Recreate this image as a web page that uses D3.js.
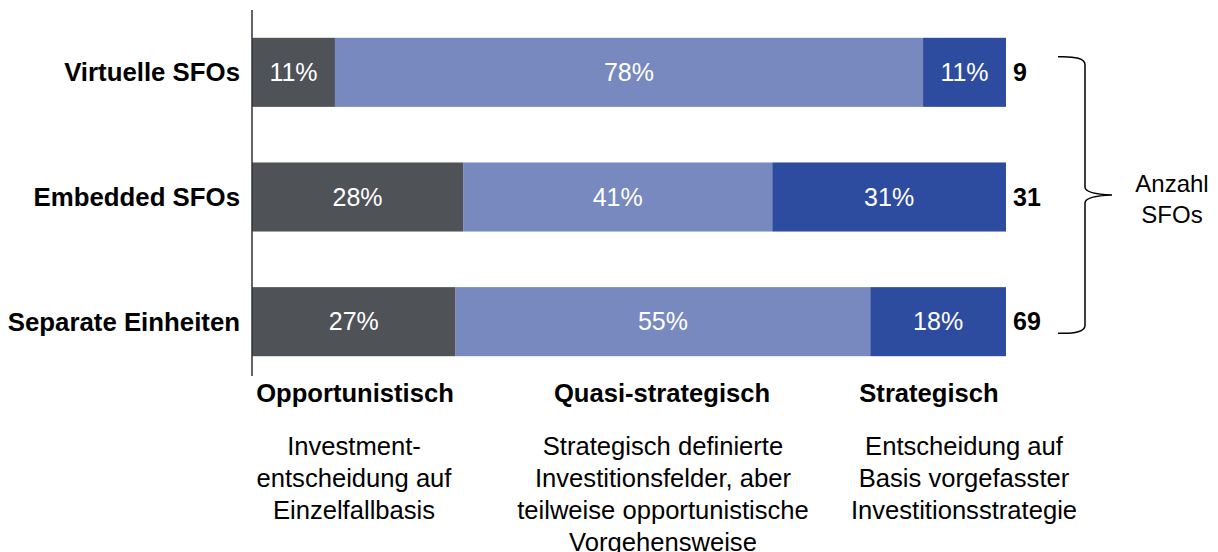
<!DOCTYPE html>
<html>
<head>
<meta charset="utf-8">
<script src="https://cdn.jsdelivr.net/npm/d3@7"></script>
<style>
  body { margin: 0; background: #fff; }
  text { font-family: "Liberation Sans", Arial, sans-serif; }
</style>
</head>
<body>
<div id="chart"></div>
<script>
// Data
var rowLabels = ["Virtuelle SFOs", "Embedded SFOs", "Separate Einheiten"];
var opportunistisch = [11, 28, 27];
var quasiStrategisch = [78, 41, 55];
var strategisch = [11, 31, 18];
var counts = [9, 31, 69];
var categoryTitles = ["Opportunistisch", "Quasi-strategisch", "Strategisch"];
var categoryTexts = [
  ["Investment-", "entscheidung auf", "Einzelfallbasis"],
  ["Strategisch definierte", "Investitionsfelder, aber", "teilweise opportunistische", "Vorgehensweise"],
  ["Entscheidung auf", "Basis vorgefasster", "Investitionsstrategie"]
];
var bracketLabel = ["Anzahl", "SFOs"];

var svgWidth = 1218;
var svgHeight = 552;
var colors = ["#4f5257", "#7789be", "#2e4c9f"];

var svg = d3.select("#chart")
  .append("svg")
  .attr("width", svgWidth)
  .attr("height", svgHeight);

// Scales
var x = d3.scaleLinear()
  .domain([0, 100])
  .range([252, 1006]);

var y = d3.scaleBand()
  .domain(rowLabels)
  .range([10, 384])
  .paddingInner(0.446)
  .paddingOuter(0.223);

// build stacked data
var rows = rowLabels.map(function (name, i) {
  return { name: name, o: opportunistisch[i], q: quasiStrategisch[i], s: strategisch[i], n: counts[i] };
});
var stack = d3.stack().keys(["o", "q", "s"]);
var series = stack(rows);

var groups = svg.selectAll("g.series")
  .data(series)
  .enter()
  .append("g")
  .attr("class", "series")
  .attr("fill", function (d, i) { return colors[i]; });

groups.selectAll("rect")
  .data(function (d) { return d; })
  .enter()
  .append("rect")
  .attr("x", function (d) { return x(d[0]); })
  .attr("y", function (d) { return y(d.data.name); })
  .attr("width", function (d) { return x(d[1]) - x(d[0]); })
  .attr("height", y.bandwidth());

// percent labels
groups.selectAll("text")
  .data(function (d) { return d; })
  .enter()
  .append("text")
  .attr("x", function (d) { return (x(d[0]) + x(d[1])) / 2; })
  .attr("y", function (d) { return y(d.data.name) + y.bandwidth() / 2; })
  .attr("dy", "0.35em")
  .attr("text-anchor", "middle")
  .attr("fill", "#ffffff")
  .attr("font-size", "25px")
  .text(function (d) { return (d[1] - d[0]) + "%"; });

// left axis line (no ticks)
svg.append("line")
  .attr("x1", x(0)).attr("x2", x(0))
  .attr("y1", 10).attr("y2", 376)
  .attr("stroke", "#333")
  .attr("stroke-width", 1.5);

// row labels
svg.selectAll("text.rowLabel")
  .data(rowLabels)
  .enter()
  .append("text")
  .attr("class", "rowLabel")
  .attr("x", 240)
  .attr("y", function (d) { return y(d) + y.bandwidth() / 2; })
  .attr("dy", "0.35em")
  .attr("text-anchor", "end")
  .attr("font-size", "25.8px")
  .attr("font-weight", "bold")
  .attr("fill", "#000")
  .text(function (d) { return d; });

// counts
svg.selectAll("text.count")
  .data(rows)
  .enter()
  .append("text")
  .attr("class", "count")
  .attr("x", x(100) + 7)
  .attr("y", function (d) { return y(d.name) + y.bandwidth() / 2; })
  .attr("dy", "0.35em")
  .attr("font-size", "25px")
  .attr("font-weight", "bold")
  .attr("fill", "#000")
  .text(function (d) { return d.n; });

// curly brace
var braceTop = y(rowLabels[0]) + 19;
var braceBottom = y(rowLabels[2]) + y.bandwidth() - 23;
var braceMid = (braceTop + braceBottom) / 2;
var bx = 1085;
var bracePath = "M1058," + braceTop +
  " Q" + bx + "," + (braceTop - 1) + " " + bx + "," + (braceTop + 8) +
  " L" + bx + "," + (braceMid - 8) +
  " Q" + bx + "," + (braceMid - 1) + " 1112," + braceMid +
  " Q" + bx + "," + (braceMid + 1) + " " + bx + "," + (braceMid + 8) +
  " L" + bx + "," + (braceBottom - 8) +
  " Q" + bx + "," + (braceBottom + 1) + " 1058," + braceBottom;
svg.append("path")
  .attr("d", bracePath)
  .attr("fill", "none")
  .attr("stroke", "#000")
  .attr("stroke-width", 1.5);

svg.append("text")
  .attr("text-anchor", "middle")
  .attr("font-size", "24px")
  .selectAll("tspan")
  .data(bracketLabel)
  .enter()
  .append("tspan")
  .attr("x", 1172)
  .attr("y", function (d, i) { return 192 + i * 31; })
  .text(function (d) { return d; });

// category headings and descriptions
var titleX = [355, 662, 929];
var textX = [354, 663, 964];
svg.selectAll("text.catTitle")
  .data(categoryTitles)
  .enter()
  .append("text")
  .attr("class", "catTitle")
  .attr("x", function (d, i) { return titleX[i]; })
  .attr("y", 402)
  .attr("text-anchor", "middle")
  .attr("font-size", "25.6px")
  .attr("font-weight", "bold")
  .text(function (d) { return d; });

svg.selectAll("text.catText")
  .data(categoryTexts)
  .enter()
  .append("text")
  .attr("class", "catText")
  .attr("text-anchor", "middle")
  .attr("font-size", "25.6px")
  .each(function (lines, i) {
    d3.select(this).selectAll("tspan")
      .data(lines)
      .enter()
      .append("tspan")
      .attr("x", textX[i])
      .attr("y", function (d, j) { return 455 + j * 32; })
      .text(function (d) { return d; });
  });
</script>
</body>
</html>
